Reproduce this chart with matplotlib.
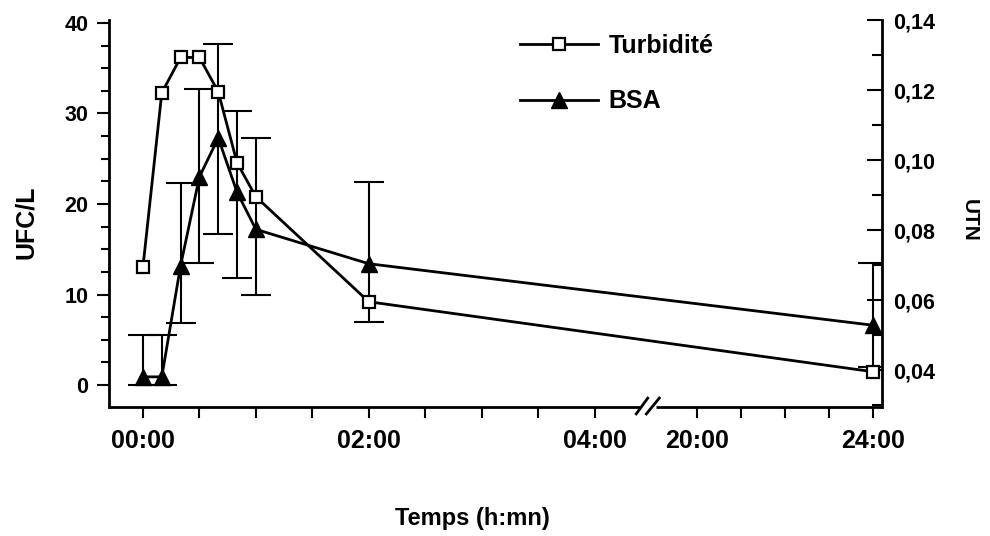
import numpy as np
import matplotlib
matplotlib.use("Agg")
import matplotlib.pyplot as plt
from matplotlib.lines import Line2D
from matplotlib.ticker import FixedLocator, MultipleLocator

plt.rcParams['font.family'] = ['Liberation Sans', 'DejaVu Sans']
plt.rcParams['font.weight'] = 'bold'

# ---------------- data ----------------
time_min = [0, 10, 20, 30, 40, 50, 60, 120, 1440]           # sampling times (minutes)
turbidite_utn = [0.0695, 0.1192, 0.1293, 0.1293, 0.1195, 0.0992, 0.0895, 0.0595, 0.0395]
bsa_ufc = [0.9, 0.9, 13.2, 23.0, 27.3, 21.3, 17.2, 13.4, 6.6]
bsa_low = [0.0, 0.0, 6.85, 13.5, 16.7, 11.8, 9.9, 7.0, 2.0]
bsa_high = [5.5, 5.5, 22.3, 32.7, 37.7, 30.3, 27.3, 22.4, 13.5]
xtick_hours = [0, 0.5, 1, 1.5, 2, 2.5, 3, 3.5, 4, 20, 21, 22, 23, 24]
xtick_labels = ['00:00', '', '', '', '02:00', '', '', '', '04:00', '20:00', '', '', '', '24:00']
left_ticks = [0, 10, 20, 30, 40]
right_ticks = [0.04, 0.06, 0.08, 0.10, 0.12, 0.14]
series_labels = ['Turbidité', 'BSA']

x_hours = np.array(time_min) / 60.0
bsa = np.array(bsa_ufc)
yerr = [bsa - np.array(bsa_low), np.array(bsa_high) - bsa]

# broken time axis: 0-4.4 h at full scale, 19-24 h compressed
_xp = [-100.0, 4.4, 19.0, 100.0]
_fp = [-100.0, 4.4, 4.522, 4.522 + 81.0 * 44.0 / 113.0]
def fwd(t):
    return np.interp(t, _xp, _fp)
def inv(u):
    return np.interp(u, _fp, _xp)

fig = plt.figure(figsize=(9.9, 5.36), dpi=100)
ax = fig.add_axes([109/990, 129/536, 773/990, 387/536])
ax.set_xscale('function', functions=(fwd, inv))
ax.set_xlim(-0.301, 24.2)
ax.set_ylim(-2.43, 40.33)
ax2 = ax.twinx()
ax2.set_ylim(0.02943, 0.14)

# BSA (left axis) with error bars
ax.errorbar(x_hours, bsa, yerr=yerr, fmt='-^', color='black', lw=2.0,
            ms=11.5, elinewidth=1.5, capsize=11, capthick=1.5, zorder=3)
# Turbidity (right axis)
ax2.plot(x_hours, turbidite_utn, '-s', color='black', lw=2.0, ms=8.5,
         mfc='white', mec='black', mew=1.6, zorder=3)

# spines
for s in ['top', 'right', 'bottom']:
    ax.spines[s].set_visible(False)
for s in ['top', 'left', 'bottom']:
    ax2.spines[s].set_visible(False)
ax.spines['left'].set_linewidth(2.0)
ax2.spines['right'].set_linewidth(2.0)

# bottom spine with break
kw = dict(transform=ax.transAxes, color='black', lw=2.0, clip_on=False,
          solid_capstyle='butt', zorder=5)
ax.plot([0, 0.687], [0, 0], **kw)
ax.plot([0.707, 1.0], [0, 0], **kw)
ax.plot([0.681, 0.698], [-0.0207, 0.0258], **kw)
ax.plot([0.694, 0.713], [-0.0207, 0.0258], **kw)

# x ticks
ax.xaxis.set_major_locator(FixedLocator(xtick_hours))
ax.set_xticklabels(xtick_labels)
ax.xaxis.set_minor_locator(FixedLocator([]))
ax.tick_params(axis='x', which='major', direction='out', length=8, width=1.5,
               labelsize=18, pad=8)
for lab in ax.get_xticklabels():
    lab.set_fontweight('bold')

# left y ticks
ax.yaxis.set_major_locator(FixedLocator(left_ticks))
ax.yaxis.set_minor_locator(MultipleLocator(2.5))
ax.tick_params(axis='y', which='major', direction='out', length=9, width=1.5,
               labelsize=15.5, pad=6)
ax.tick_params(axis='y', which='minor', direction='out', length=6, width=1.5)
for lab in ax.get_yticklabels():
    lab.set_fontweight('bold')

# right y ticks
ax2.yaxis.set_major_locator(FixedLocator(right_ticks))
ax2.yaxis.set_minor_locator(MultipleLocator(0.01))
ax2.set_yticklabels([('%.2f' % v).replace('.', ',') for v in right_ticks])
ax2.tick_params(axis='y', which='major', direction='in', length=11, width=1.5,
                labelsize=15.5, pad=8)
ax2.tick_params(axis='y', which='minor', direction='in', length=7, width=1.5)
for lab in ax2.get_yticklabels():
    lab.set_fontweight('bold')

# axis titles
fig.text(26/990, 1 - 222/536, 'UFC/L', rotation=90, ha='center', va='center',
         fontsize=18, fontweight='bold')
fig.text(969/990, 1 - 220/536, 'UTN', rotation=270, ha='center', va='center',
         fontsize=15, fontweight='bold')
fig.text(472/990, 1 - 519/536, 'Temps (h:mn)', ha='center', va='center',
         fontsize=17, fontweight='bold')

# legend
handles = [
    Line2D([], [], color='black', lw=2.0, marker='s', ms=8.5, mfc='white',
           mec='black', mew=1.6),
    Line2D([], [], color='black', lw=2.0, marker='^', ms=11.5),
]
fig.legend(handles, series_labels, loc='upper left',
           bbox_to_anchor=(520/990, 1 - 34/536), frameon=False, borderpad=0,
           borderaxespad=0, handlelength=3.1, handletextpad=0.45,
           labelspacing=1.25, numpoints=1,
           prop={'family': 'Liberation Sans', 'weight': 'bold', 'size': 18})

fig.savefig('out.png', dpi=100)
